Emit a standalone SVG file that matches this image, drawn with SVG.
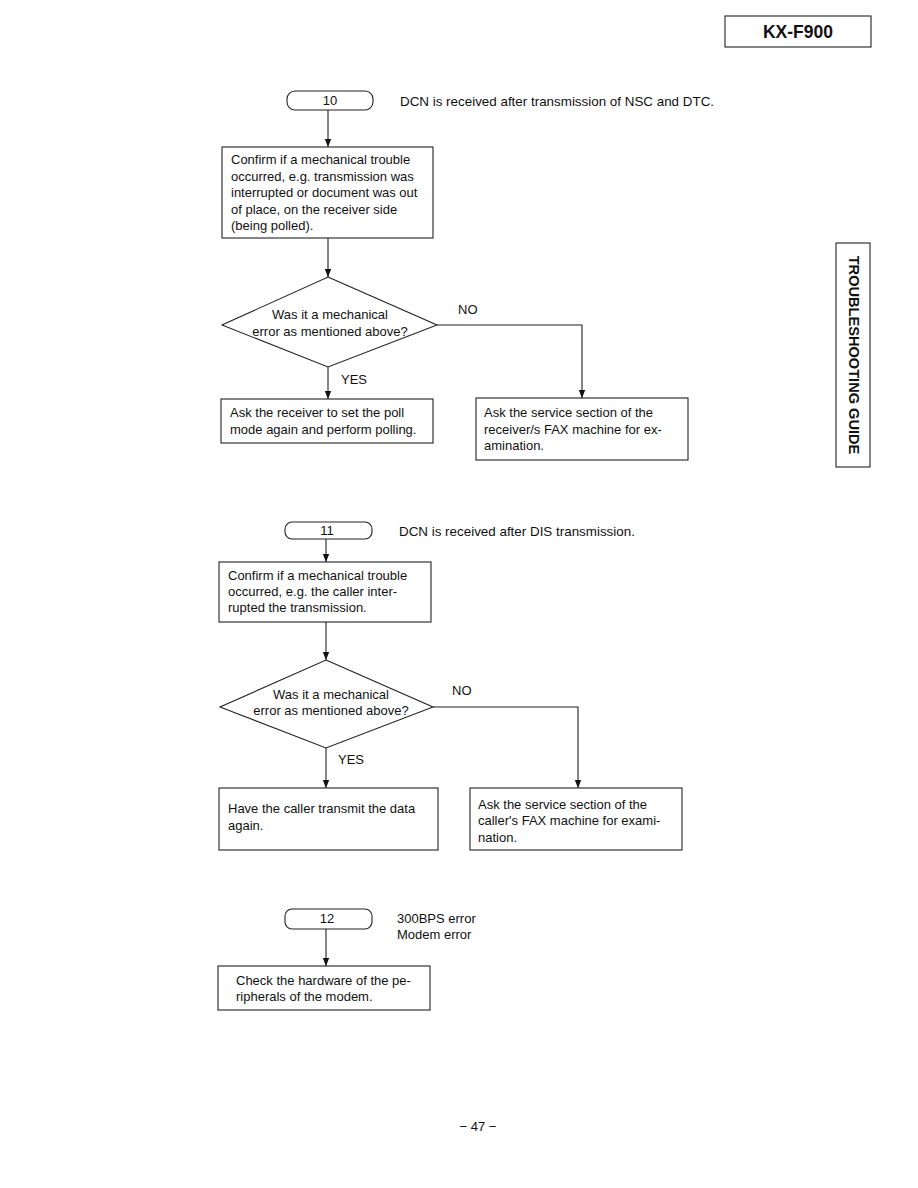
<svg xmlns="http://www.w3.org/2000/svg" width="918" height="1188" viewBox="0 0 918 1188">
<defs>
<marker id="arr" viewBox="0 0 8 8" refX="8" refY="4" markerWidth="8" markerHeight="8" markerUnits="userSpaceOnUse" orient="auto">
<path d="M0,0.8 L8,4 L0,7.2 Z" fill="#111"/>
</marker>
<style>
.t{font-family:"Liberation Sans",Arial,sans-serif;font-size:13px;fill:#111}
.l{font-size:13.4px}
.b{fill:#fff;stroke:#222;stroke-width:1.1}
.c{fill:none;stroke:#222;stroke-width:1.1}
.h{font-family:"Liberation Sans",Arial,sans-serif;font-weight:bold;fill:#111}
</style>
</defs>
<rect width="918" height="1188" fill="#fff"/>

<g id="header">
<rect x="725" y="16" width="146" height="31" class="b"/>
<text x="798" y="38" class="h" font-size="17.5" text-anchor="middle">KX-F900</text>
</g>
<g id="sidetab">
<rect x="836" y="243" width="34" height="224" class="b"/>
<text transform="translate(849,355) rotate(90)" class="h" font-size="14.6" text-anchor="middle">TROUBLESHOOTING GUIDE</text>
</g>

<g id="connectors">
<line x1="328" y1="110" x2="328" y2="147" class="c" marker-end="url(#arr)"/>
<line x1="328" y1="238" x2="328" y2="277" class="c" marker-end="url(#arr)"/>
<line x1="328" y1="367" x2="328" y2="399" class="c" marker-end="url(#arr)"/>
<polyline points="437,325 582,325 582,398" class="c" marker-end="url(#arr)"/>
<line x1="326" y1="539" x2="326" y2="562" class="c" marker-end="url(#arr)"/>
<line x1="326" y1="622" x2="326" y2="660" class="c" marker-end="url(#arr)"/>
<line x1="326" y1="748" x2="326" y2="788" class="c" marker-end="url(#arr)"/>
<polyline points="433,707 578,707 578,788" class="c" marker-end="url(#arr)"/>
<line x1="326" y1="929" x2="326" y2="966" class="c" marker-end="url(#arr)"/>
<text x="458" y="314" class="t">NO</text>
<text x="341" y="384" class="t">YES</text>
<text x="452" y="695" class="t">NO</text>
<text x="338" y="764" class="t">YES</text>
</g>

<g id="start10">
<rect x="287" y="91" width="86" height="19" rx="8" class="b"/>
<text x="330" y="105" class="t" text-anchor="middle">10</text>
<text x="400" y="106" class="t l">DCN is received after transmission of NSC and DTC.</text>
</g>
<g id="confirm10">
<rect x="222" y="147" width="211" height="91" class="b"/>
<text class="t"><tspan x="231" y="164">Confirm if a mechanical trouble</tspan><tspan x="231" y="180.5">occurred, e.g. transmission was</tspan><tspan x="231" y="197">interrupted or document was out</tspan><tspan x="231" y="213.5">of place, on the receiver side</tspan><tspan x="231" y="230">(being polled).</tspan></text>
</g>
<g id="decision10">
<polygon points="328,277 437,325 328,367 222,325" class="b"/>
<text class="t" text-anchor="middle"><tspan x="330" y="319">Was it a mechanical</tspan><tspan x="330" y="336">error as mentioned above?</tspan></text>
</g>
<g id="yes10">
<rect x="221" y="399" width="212" height="44" class="b"/>
<text class="t"><tspan x="230" y="417">Ask the receiver to set the poll</tspan><tspan x="230" y="434">mode again and perform polling.</tspan></text>
</g>
<g id="no10">
<rect x="476" y="398" width="212" height="62" class="b"/>
<text class="t"><tspan x="484" y="417">Ask the service section of the</tspan><tspan x="484" y="434">receiver/s FAX machine for ex-</tspan><tspan x="484" y="450">amination.</tspan></text>
</g>

<g id="start11">
<rect x="285" y="522" width="87" height="17" rx="7" class="b"/>
<text x="327" y="535" class="t" text-anchor="middle">11</text>
<text x="399" y="536" class="t l">DCN is received after DIS transmission.</text>
</g>
<g id="confirm11">
<rect x="219" y="562" width="212" height="60" class="b"/>
<text class="t"><tspan x="228" y="580">Confirm if a mechanical trouble</tspan><tspan x="228" y="596">occurred, e.g. the caller inter-</tspan><tspan x="228" y="612">rupted the transmission.</tspan></text>
</g>
<g id="decision11">
<polygon points="326,660 433,707 326,748 220,707" class="b"/>
<text class="t" text-anchor="middle"><tspan x="331" y="699">Was it a mechanical</tspan><tspan x="331" y="715">error as mentioned above?</tspan></text>
</g>
<g id="yes11">
<rect x="219" y="788" width="219" height="62" class="b"/>
<text class="t"><tspan x="228" y="813">Have the caller transmit the data</tspan><tspan x="228" y="830">again.</tspan></text>
</g>
<g id="no11">
<rect x="470" y="788" width="212" height="62" class="b"/>
<text class="t"><tspan x="478" y="809">Ask the service section of the</tspan><tspan x="478" y="825">caller's FAX machine for exami-</tspan><tspan x="478" y="842">nation.</tspan></text>
</g>

<g id="start12">
<rect x="285" y="909" width="87" height="20" rx="7" class="b"/>
<text x="327" y="923" class="t" text-anchor="middle">12</text>
<text class="t"><tspan x="397" y="923">300BPS error</tspan><tspan x="397" y="939">Modem error</tspan></text>
</g>
<g id="check12">
<rect x="218" y="966" width="212" height="44" class="b"/>
<text class="t"><tspan x="236" y="985">Check the hardware of the pe-</tspan><tspan x="236" y="1001">ripherals of the modem.</tspan></text>
</g>

<text x="478" y="1131" class="t" font-size="16" text-anchor="middle">− 47 −</text>
</svg>
